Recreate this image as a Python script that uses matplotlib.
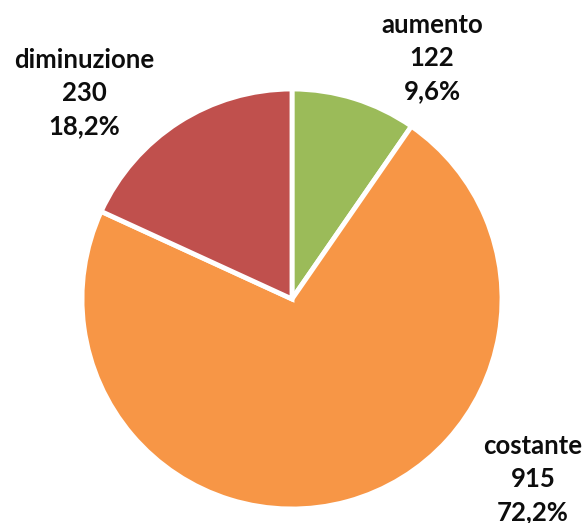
import matplotlib
matplotlib.use("Agg")
import matplotlib.pyplot as plt

categories = ["aumento", "costante", "diminuzione"]
values = [122, 915, 230]
percent_labels = ["9,6%", "72,2%", "18,2%"]
colors = ["#9BBB59", "#F79646", "#C0504D"]

fig = plt.figure(figsize=(5.87, 5.23), dpi=100)
ax = fig.add_axes([82/587, (523-509)/523, 420/587, 420/523])
ax.pie(values, colors=colors, startangle=90, counterclock=False,
       wedgeprops=dict(edgecolor="white", linewidth=3.5))
ax.set_xlim(-1, 1)
ax.set_ylim(-1, 1)
ax.set_aspect("equal")
ax.axis("off")

def px(x, y):
    return (x - 292) / 210, (299 - y) / 210

label_pos = [px(432, 58), px(533, 479), px(84, 93)]
for cat, v, p, (lx, ly) in zip(categories, values, percent_labels, label_pos):
    ax.text(lx, ly, f"{cat}\n{v}\n{p}", ha="center", va="center",
            fontsize=18.5, fontweight="bold", color="#0d0d0d",
            linespacing=1.45, family="Lato", clip_on=False)

fig.savefig("out.png", dpi=100)
